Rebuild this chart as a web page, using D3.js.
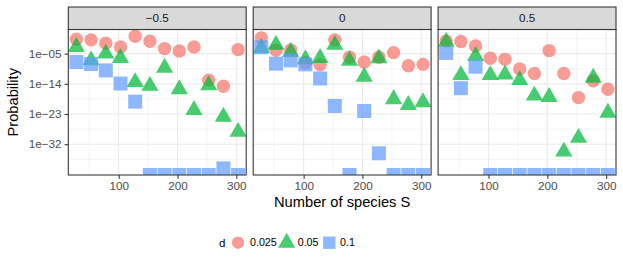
<!DOCTYPE html>
<html><head><meta charset="utf-8">
<script src="https://cdn.jsdelivr.net/npm/d3@7"></script>
<style>body{margin:0;background:#fff}svg{display:block;font-family:"Liberation Sans",Arial,Helvetica,sans-serif}</style>
</head><body><svg id="c" width="623" height="267"></svg>
<script>
// ---- data (log10 of probability; null = probability 0, drawn at panel bottom) ----
const S = [28, 53, 78, 103, 128, 153, 178, 203, 228, 253, 278, 303];
const facets = ["−0.5", "0", "0.5"];
const dLevels = ["0.025", "0.05", "0.1"];
const logP_m05_d025 = [-0.7, -0.9, -1.9, -3.0, 0.2, -1.3, -3.5, -4.2, -3.0, -12.9, -14.7, -3.8];
const logP_m05_d05  = [-3.0, -7.0, -5.0, -6.3, -13.5, -14.6, -9.2, -15.6, -21.8, -14.4, -23.8, -28.3];
const logP_m05_d1   = [-7.5, -8.1, -10.0, -13.9, -19.3, null, null, null, null, null, -39.2, null];
const logP_0_d025   = [-0.3, -4.0, -3.9, -7.7, -8.3, -0.9, -6.1, -7.5, -6.1, -4.7, -8.6, -8.2];
const logP_0_d05    = [-3.3, -2.4, -4.5, -6.7, -6.3, -2.4, -7.1, -11.9, -6.4, -18.6, -20.3, -19.5];
const logP_0_d1     = [-3.1, -8.0, -7.0, -8.2, -12.4, -20.6, null, -22.1, -34.7, null, null, null];
const logP_p05_d025 = [-1.2, -1.4, -2.7, -6.4, -6.7, -9.6, -10.9, -4.1, -10.9, -18.1, -13.1, -15.6];
const logP_p05_d05  = [-1.5, -11.4, -5.7, -11.4, -11.2, -12.9, -17.5, -17.9, -34.2, -30.1, -12.2, -22.6];
const logP_p05_d1   = [-4.8, -15.3, -8.9, null, null, null, null, null, null, null, null, null];
const xTicks = [100, 200, 300];
const xMinor = [50, 150, 250];
const yTicks = [1e-5, 1e-14, 1e-23, 1e-32];
const yTickLabels = ["1e−05", "1e−14", "1e−23", "1e−32"];
const yMinor = [-0.5, -9.5, -18.5, -27.5, -36.5];

const panelData = [
  [logP_m05_d025, logP_m05_d05, logP_m05_d1],
  [logP_0_d025, logP_0_d05, logP_0_d1],
  [logP_p05_d025, logP_p05_d05, logP_p05_d1]
];

// ---- layout ----
const colors = ["#F8766D", "#00BA38", "#619CFF"];
const alpha = 0.72;
const plotL = 68.3, plotR = 616, gap = 7;
const stripTop = 7, panelTop = 29.5, panelBot = 175;
const panelW = (plotR - plotL - 2 * gap) / 3;
const svg = d3.select("#c");

const x = d3.scaleLinear().domain([14.25, 316.75]).range([0, panelW]);
const y = d3.scaleLog().domain([Math.pow(10, -41.17), Math.pow(10, 2.19)]).range([panelBot, panelTop]);
const yOf = v => v === null ? panelBot : y(Math.pow(10, v));

const circleR = 6.7, squareS = 14;
const triSym = d3.symbol().type(d3.symbolTriangle).size(128);

facets.forEach((f, i) => {
  const px = plotL + i * (panelW + gap);
  const g = svg.append("g").attr("transform", `translate(${px},0)`);
  const clipId = "clip" + i;
  svg.append("clipPath").attr("id", clipId).append("rect")
    .attr("x", 0).attr("y", panelTop).attr("width", panelW).attr("height", panelBot - panelTop);
  // panel background grid
  const grid = g.append("g");
  yMinor.forEach(v => grid.append("line").attr("x1", 0).attr("x2", panelW)
    .attr("y1", y(Math.pow(10, v))).attr("y2", y(Math.pow(10, v)))
    .attr("stroke", "#EBEBEB").attr("stroke-width", 0.55));
  xMinor.forEach(v => grid.append("line").attr("y1", panelTop).attr("y2", panelBot)
    .attr("x1", x(v)).attr("x2", x(v)).attr("stroke", "#EBEBEB").attr("stroke-width", 0.55));
  yTicks.forEach(v => grid.append("line").attr("x1", 0).attr("x2", panelW)
    .attr("y1", y(v)).attr("y2", y(v)).attr("stroke", "#EBEBEB").attr("stroke-width", 1.1));
  xTicks.forEach(v => grid.append("line").attr("y1", panelTop).attr("y2", panelBot)
    .attr("x1", x(v)).attr("x2", x(v)).attr("stroke", "#EBEBEB").attr("stroke-width", 1.1));

  // points
  const pts = g.append("g").attr("clip-path", `url(#${clipId})`);
  const [c, t, s] = panelData[i];
  pts.selectAll("circle").data(c).join("circle")
    .attr("cx", (d, k) => x(S[k])).attr("cy", d => yOf(d)).attr("r", circleR)
    .attr("fill", colors[0]).attr("fill-opacity", alpha);
  pts.selectAll("path.tri").data(t).join("path").attr("class", "tri")
    .attr("d", triSym).attr("transform", (d, k) => `translate(${x(S[k])},${yOf(d)})`)
    .attr("fill", colors[1]).attr("fill-opacity", alpha);
  pts.selectAll("rect").data(s).join("rect")
    .attr("x", (d, k) => x(S[k]) - squareS / 2).attr("y", d => yOf(d) - squareS / 2)
    .attr("width", squareS).attr("height", squareS)
    .attr("fill", colors[2]).attr("fill-opacity", alpha);

  // border
  g.append("rect").attr("x", 0).attr("y", panelTop).attr("width", panelW).attr("height", panelBot - panelTop)
    .attr("fill", "none").attr("stroke", "#333333").attr("stroke-width", 1.07);
  // strip
  g.append("rect").attr("x", 0).attr("y", stripTop).attr("width", panelW).attr("height", panelTop - stripTop)
    .attr("fill", "#D9D9D9").attr("stroke", "#333333").attr("stroke-width", 1.07);
  g.append("text").attr("x", panelW / 2).attr("y", (stripTop + panelTop) / 2).attr("dy", "0.35em")
    .attr("text-anchor", "middle").attr("font-size", 11.7).attr("fill", "#1A1A1A").text(f);

  // x axis
  const xa = g.append("g").attr("transform", `translate(0,${panelBot})`)
    .call(d3.axisBottom(x).tickValues(xTicks).tickSize(3.7).tickPadding(3).tickFormat(d3.format("d")));
  xa.select(".domain").remove();
  xa.selectAll(".tick line").attr("stroke", "#333333").attr("stroke-width", 1.07);
  xa.selectAll(".tick text").attr("fill", "#4D4D4D").attr("font-size", 11.7)
    .attr("font-family", "Liberation Sans, Arial, sans-serif");

  if (i === 0) {
    const ya = g.append("g").call(d3.axisLeft(y).tickValues(yTicks).tickSize(3.7).tickPadding(3)
      .tickFormat((d, k) => yTickLabels[k]));
    ya.select(".domain").remove();
    ya.selectAll(".tick line").attr("stroke", "#333333").attr("stroke-width", 1.07);
    ya.selectAll(".tick text").attr("fill", "#4D4D4D").attr("font-size", 11.7)
      .attr("font-family", "Liberation Sans, Arial, sans-serif");
  }
});

// axis titles
svg.append("text").attr("x", (plotL + plotR) / 2).attr("y", 202).attr("dy", "0.35em")
  .attr("text-anchor", "middle").attr("font-size", 14.7).attr("fill", "#000").text("Number of species S");
svg.append("text").attr("transform", `translate(13,${(panelTop + panelBot) / 2}) rotate(-90)`)
  .attr("dy", "0.35em").attr("text-anchor", "middle").attr("font-size", 14.7).attr("fill", "#000").text("Probability");

// legend
const ly = 242.7;
const lg = svg.append("g");
lg.append("text").attr("x", 219).attr("y", ly).attr("dy", "0.35em").attr("font-size", 11.5).attr("fill", "#000").text("d");
const keyX = [238, 286.7, 329.3];
const labX = [250, 297.7, 340];
dLevels.forEach((lab, k) => {
  if (k === 0) lg.append("circle").attr("cx", keyX[k]).attr("cy", ly).attr("r", 6.2)
    .attr("fill", colors[0]).attr("fill-opacity", alpha);
  if (k === 1) lg.append("path").attr("d", triSym).attr("transform", `translate(${keyX[k]},${ly})`)
    .attr("fill", colors[1]).attr("fill-opacity", alpha);
  if (k === 2) lg.append("rect").attr("x", keyX[k] - 6.2).attr("y", ly - 6.2).attr("width", 12.4).attr("height", 12.4)
    .attr("fill", colors[2]).attr("fill-opacity", alpha);
  lg.append("text").attr("x", labX[k]).attr("y", ly).attr("dy", "0.35em").attr("font-size", 10.7)
    .attr("fill", "#000").text(lab);
});
</script></body></html>
